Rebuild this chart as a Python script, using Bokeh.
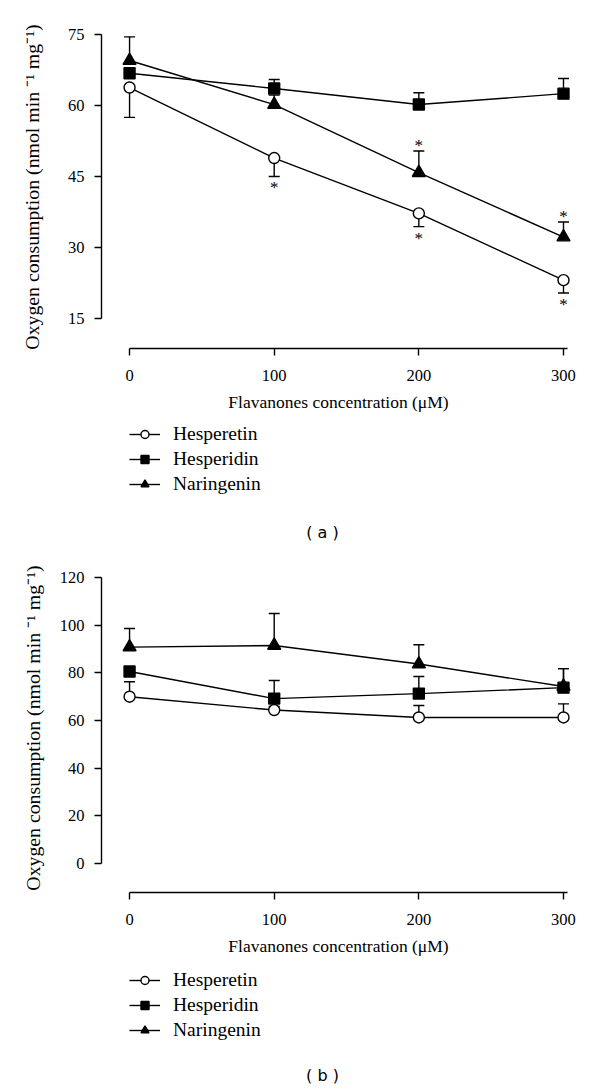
from bokeh.plotting import figure
from bokeh.layouts import column
from bokeh.models import (Legend, LegendItem, Label, ColumnDataSource, Whisker,
                          Range1d, FixedTicker, TeeHead)
from bokeh.core.properties import value
from bokeh.embed import file_html
from bokeh.resources import INLINE

# ---------------- data ----------------
conc = [0, 100, 200, 300]
series_names = ["Hesperetin", "Hesperidin", "Naringenin"]

# panel (a)
hesperetin_a = [63.8, 48.9, 37.2, 23.1]
hesperetin_a_err = [6.3, 3.9, 2.8, 2.7]          # drawn downward
hesperidin_a = [66.8, 63.6, 60.2, 62.5]
hesperidin_a_err = [1.2, 1.9, 2.5, 3.2]          # drawn upward
naringenin_a = [69.5, 60.2, 45.8, 32.2]
naringenin_a_err = [5.0, 2.0, 4.6, 3.2]          # drawn upward
sig_hesperetin_a = [False, True, True, True]
sig_naringenin_a = [False, False, True, True]
y_ticks_a = [15, 30, 45, 60, 75]

# panel (b)
hesperetin_b = [70.0, 64.4, 61.3, 61.3]
hesperetin_b_err = [6.3, 1.5, 5.0, 5.7]
hesperidin_b = [80.6, 69.2, 71.3, 73.8]
hesperidin_b_err = [2.0, 7.6, 7.2, 8.0]
naringenin_b = [90.8, 91.5, 83.7, 74.3]
naringenin_b_err = [7.8, 13.4, 8.1, 7.5]
y_ticks_b = [0, 20, 40, 60, 80, 100, 120]

x_ticks = [0, 100, 200, 300]

SERIF = "Liberation Serif"
LW = 1.4
SPECS = [("circle", 11, "white"), ("square", 11, "black"), ("triangle", 13, "black")]


def style_axes(p, y_ticks, y_bounds, label_standoff):
    p.outline_line_color = None
    p.grid.visible = False
    for ax in (p.xaxis[0], p.yaxis[0]):
        ax.axis_line_color = "black"
        ax.axis_line_width = LW
        ax.major_tick_line_color = "black"
        ax.major_tick_line_width = LW
        ax.major_tick_out = 7
        ax.major_tick_in = 0
        ax.minor_tick_line_color = None
        ax.major_label_text_font = SERIF
        ax.major_label_text_font_size = "16.5px"
        ax.major_label_text_color = "black"
        ax.axis_label_text_font = SERIF
        ax.axis_label_text_font_style = "normal"
        ax.axis_label_text_color = "black"
    p.xaxis[0].ticker = FixedTicker(ticks=x_ticks)
    p.xaxis[0].bounds = (0, 303)
    p.xaxis[0].major_label_standoff = 14
    p.xaxis[0].axis_label = "Flavanones concentration (μM)"
    p.xaxis[0].axis_label_text_font_size = "17.5px"
    p.xaxis[0].axis_label_standoff = 8
    p.yaxis[0].ticker = FixedTicker(ticks=y_ticks)
    p.yaxis[0].bounds = y_bounds
    p.yaxis[0].major_label_standoff = 10
    p.yaxis[0].axis_label = "Oxygen consumption (nmol min ⁻¹ mg⁻¹)"
    p.yaxis[0].axis_label_text_font_size = "19.8px"
    p.yaxis[0].axis_label_standoff = label_standoff


def draw_series(p, y, err, direction, marker, size, fill, with_errors=True):
    src = ColumnDataSource(dict(
        x=conc, y=y,
        lo=[v - e if direction == "down" else v for v, e in zip(y, err)],
        hi=[v + e if direction == "up" else v for v, e in zip(y, err)],
    ))
    if with_errors:
        head = TeeHead(size=11, line_color="black", line_width=LW)
        w = Whisker(source=src, base="x", lower="lo", upper="hi", dimension="height",
                    line_color="black", line_width=LW, level="underlay",
                    upper_head=None if direction == "down" else head,
                    lower_head=head if direction == "down" else None)
        p.add_layout(w)
    ln = p.line("x", "y", source=src, line_color="black", line_width=LW)
    sc = p.scatter("x", "y", source=src, marker=marker, size=size,
                   fill_color=fill, line_color="black", line_width=LW)
    return ln, sc


def make_plot(height, top, bottom_px, y_range, y_ticks, y_bounds, data, sig,
              label_standoff):
    p = figure(width=600, height=height, x_range=Range1d(-19.4, 308.3),
               y_range=Range1d(*y_range), output_backend="svg", toolbar_location=None,
               min_border_left=101, min_border_right=25, min_border_top=top,
               min_border_bottom=bottom_px)
    style_axes(p, y_ticks, y_bounds, label_standoff)
    for (y, err, direction), (mk, sz, fill) in zip(data, SPECS):
        draw_series(p, y, err, direction, mk, sz, fill)
    if sig is not None:
        (hy, he, hs), (ny, ne, ns) = sig
        sx1 = [c for c, s in zip(conc, hs) if s]
        sy1 = [v - e for v, e, s in zip(hy, he, hs) if s]
        p.text(x=sx1, y=sy1, text=["*"] * len(sx1), text_font=value(SERIF),
               text_font_size="17px", text_align="center", text_baseline="top",
               y_offset=2, text_color="black")
        sx2 = [c for c, s in zip(conc, ns) if s]
        sy2 = [v + e for v, e, s in zip(ny, ne, ns) if s]
        p.text(x=sx2, y=sy2, text=["*"] * len(sx2), text_font=value(SERIF),
               text_font_size="17px", text_align="center", text_baseline="bottom",
               y_offset=4, text_color="black")
    return p


def make_legend_fig(img_top, height, data, legend_vy, caption, caption_y):
    # ranges chosen so that one data unit equals one pixel of the page;
    # the series themselves fall outside this view and only feed the legend
    q = figure(width=600, height=height, x_range=Range1d(101, 575),
               y_range=Range1d(img_top + height, img_top),
               output_backend="svg", toolbar_location=None,
               x_axis_location=None, y_axis_location=None,
               min_border_left=101, min_border_right=25, min_border_top=0,
               min_border_bottom=0)
    q.outline_line_color = None
    q.grid.visible = False
    items = []
    for name, (y, err, direction), (mk, sz, fill) in zip(series_names, data, SPECS):
        ln, sc = draw_series(q, y, err, direction, mk, sz, fill, with_errors=False)
        items.append(LegendItem(label=name, renderers=[ln, sc]))
    legend = Legend(items=items, location=(28, legend_vy), margin=0, padding=0,
                    spacing=3, glyph_width=31, glyph_height=20, label_height=20,
                    label_standoff=13, label_text_font=SERIF,
                    label_text_font_size="19.5px", label_text_color="black",
                    label_text_baseline="middle",
                    border_line_color=None, background_fill_alpha=0)
    q.add_layout(legend)
    q.add_layout(Label(x=322, y=caption_y, text=caption,
                       text_align="center", text_baseline="middle",
                       text_font="DejaVu Sans", text_font_size="16px",
                       text_color="black"))
    return q


data_a = [(hesperetin_a, hesperetin_a_err, "down"),
          (hesperidin_a, hesperidin_a_err, "up"),
          (naringenin_a, naringenin_a_err, "up")]
data_b = [(hesperetin_b, hesperetin_b_err, "up"),
          (hesperidin_b, hesperidin_b_err, "up"),
          (naringenin_b, naringenin_b_err, "up")]

pa = make_plot(
    420, 25, 72, (8.66, 76.9), y_ticks_a, (15, 75), data_a,
    ((hesperetin_a, hesperetin_a_err, sig_hesperetin_a),
     (naringenin_a, naringenin_a_err, sig_naringenin_a)),
    22)
la = make_legend_fig(420, 132, data_a, 57, "( a )", 532)

pb = make_plot(
    408, 11, 68, (-12.17, 125.9), y_ticks_b, (0, 120), data_b, None, 13)
lb = make_legend_fig(960, 130, data_b, 49, "( b )", 1075)

layout = column(pa, la, pb, lb, spacing=0)
open("out.html", "w").write(file_html(layout, INLINE))
